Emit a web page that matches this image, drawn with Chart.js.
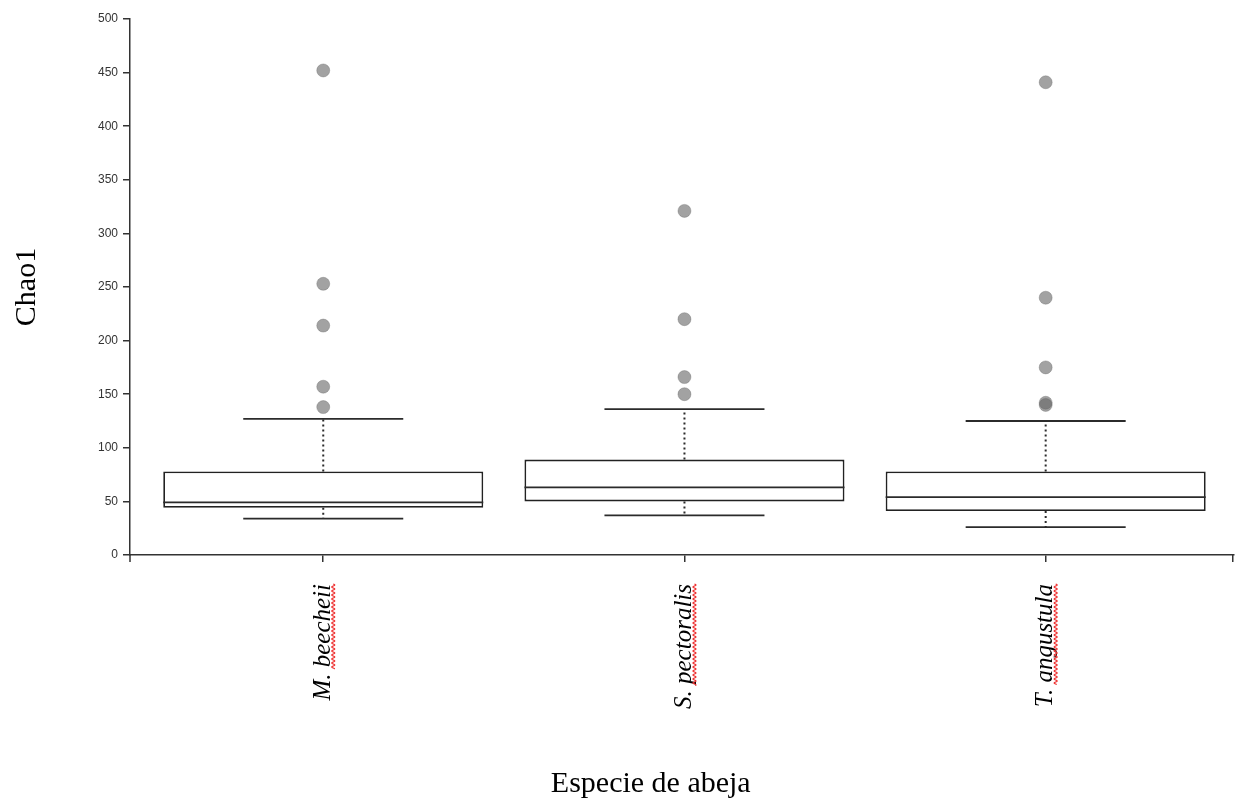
<!DOCTYPE html>
<html>
<head>
<meta charset="utf-8">
<script src="https://cdn.jsdelivr.net/npm/chart.js@4/dist/chart.umd.min.js"></script>
<style>
  body { margin: 0; background: #fff; overflow: hidden; }
  #wrap { width: 1241px; height: 799px; position: relative; }
</style>
</head>
<body>
<div id="wrap"><canvas id="boxChart"></canvas></div>
<script>
// species on the x axis
const categories = ['M. beecheii', 'S. pectoralis', 'T. angustula'];
// box plot statistics (Chao1)
const q1 = [44, 50, 41];
const median = [49, 63, 54];
const q3 = [78, 89, 78];
const whiskerLow = [34, 37, 26];
const whiskerHigh = [127, 136, 125];
const outliers = [
    [452, 253, 214, 157, 138],
    [321, 220, 166, 150],
    [441, 240, 175, 142, 140]
];
const yTicks = [0, 50, 100, 150, 200, 250, 300, 350, 400, 450, 500];
const xTitle = 'Especie de abeja';

const boxData = categories.map((c, i) => ({ x: i, y: [q1[i], q3[i]] }));
const outlierData = [];
outliers.forEach((list, i) => list.forEach(v => outlierData.push({ x: i, y: v })));

// medians, whiskers and caps drawn on top of the bars
const boxExtras = {
    id: 'boxExtras',
    afterDatasetsDraw(chart) {
        const ctx = chart.ctx;
        const xs = chart.scales.x, ys = chart.scales.y;
        const bars = chart.getDatasetMeta(0).data;
        ctx.save();
        categories.forEach((c, i) => {
            const cx = xs.getPixelForValue(i);
            const half = bars[i].width / 2;
            const capHalf = half / 2;
            ctx.strokeStyle = '#2b2b2b';
            ctx.lineWidth = 1.8;
            ctx.setLineDash([]);
            // median
            let y = ys.getPixelForValue(median[i]);
            ctx.beginPath(); ctx.moveTo(cx - half, y); ctx.lineTo(cx + half, y); ctx.stroke();
            // caps
            [whiskerLow[i], whiskerHigh[i]].forEach(v => {
                const py = ys.getPixelForValue(v);
                ctx.beginPath(); ctx.moveTo(cx - capHalf, py); ctx.lineTo(cx + capHalf, py); ctx.stroke();
            });
            // dotted whiskers
            ctx.setLineDash([2, 3]);
            ctx.lineWidth = 2;
            ctx.beginPath();
            ctx.moveTo(cx, ys.getPixelForValue(q3[i]));
            ctx.lineTo(cx, ys.getPixelForValue(whiskerHigh[i]));
            ctx.moveTo(cx, ys.getPixelForValue(q1[i]));
            ctx.lineTo(cx, ys.getPixelForValue(whiskerLow[i]));
            ctx.stroke();
        });
        ctx.restore();
    },
    afterDraw(chart) {
        const ctx = chart.ctx;
        const xs = chart.scales.x;
        const area = chart.chartArea;
        ctx.save();
        // outer ticks at both ends of the x axis
        ctx.strokeStyle = '#333';
        ctx.lineWidth = 1.5;
        ctx.beginPath();
        ctx.moveTo(area.left, area.bottom); ctx.lineTo(area.left, area.bottom + 7);
        ctx.moveTo(area.right - 0.75, area.bottom); ctx.lineTo(area.right - 0.75, area.bottom + 7);
        ctx.stroke();
        // x axis title (sits a little left of the plot centre in the original)
        ctx.fillStyle = '#000';
        ctx.font = '30px "Liberation Serif"';
        ctx.textAlign = 'center';
        ctx.textBaseline = 'alphabetic';
        ctx.fillText(xTitle, (area.left + area.right) / 2 - 31, chart.height - 7);
        // red spell-check squiggle under each epithet
        ctx.font = 'italic 25px "Liberation Serif"';
        ctx.strokeStyle = '#ee3030';
        ctx.lineWidth = 1.2;
        const top = xs.top + 7 + 22;
        categories.forEach((c, i) => {
            const epithet = c.split(' ')[1];
            const len = ctx.measureText(epithet).width + 2;
            const cx = xs.getPixelForValue(i) + 10;
            ctx.beginPath();
            for (let t = 0; t <= len; t += 0.5) {
                const px = cx + 1.5 * Math.sin(t * Math.PI / 2);
                if (t === 0) ctx.moveTo(px, top + t); else ctx.lineTo(px, top + t);
            }
            ctx.stroke();
        });
        ctx.restore();
    }
};

const ctx = document.getElementById('boxChart').getContext('2d');
new Chart(ctx, {
    data: {
        datasets: [{
            type: 'bar',
            data: boxData,
            backgroundColor: '#ffffff',
            borderColor: '#222222',
            borderWidth: 1.8,
            borderSkipped: false,
            barPercentage: 0.886,
            categoryPercentage: 1.0
        }, {
            type: 'scatter',
            data: outlierData,
            pointRadius: 6.5,
            pointHoverRadius: 6.5,
            backgroundColor: 'rgba(100, 100, 100, 0.6)',
            borderColor: 'rgba(100, 100, 100, 0.35)',
            borderWidth: 1
        }]
    },
    options: {
        responsive: true,
        maintainAspectRatio: false,
        animation: false,
        layout: { padding: { top: 19, right: 2, left: 0, bottom: 0 } },
        plugins: {
            legend: { display: false },
            tooltip: { enabled: false }
        },
        scales: {
            x: {
                type: 'linear',
                min: -0.535,
                max: 2.52,
                offset: false,
                afterBuildTicks: s => { s.ticks = [0, 1, 2].map(v => ({ value: v })); },
                afterFit: s => { s.height = 244; },
                ticks: {
                    callback: v => categories[v] ?? '',
                    autoSkip: false,
                    maxRotation: 90,
                    minRotation: 90,
                    padding: 22,
                    color: '#000',
                    font: { family: 'Liberation Serif', style: 'italic', size: 25 }
                },
                grid: { drawOnChartArea: false, tickLength: 7, color: '#333', lineWidth: 1.5, offset: false },
                border: { color: '#333', width: 1.5 }
            },
            y: {
                min: 0,
                max: 500,
                afterBuildTicks: s => { s.ticks = yTicks.map(v => ({ value: v })); },
                afterFit: s => { s.width = 130; },
                ticks: {
                    padding: 5,
                    color: '#333',
                    font: { family: 'Liberation Sans', size: 12 }
                },
                grid: { drawOnChartArea: false, tickLength: 7, color: '#333', lineWidth: 1.5 },
                border: { color: '#333', width: 1.5 },
                title: {
                    display: true,
                    text: 'Chao1',
                    color: '#000',
                    font: { family: 'Liberation Serif', size: 30 },
                    padding: { top: 9, bottom: 0 }
                }
            }
        }
    },
    plugins: [boxExtras]
});
</script>
</body>
</html>
